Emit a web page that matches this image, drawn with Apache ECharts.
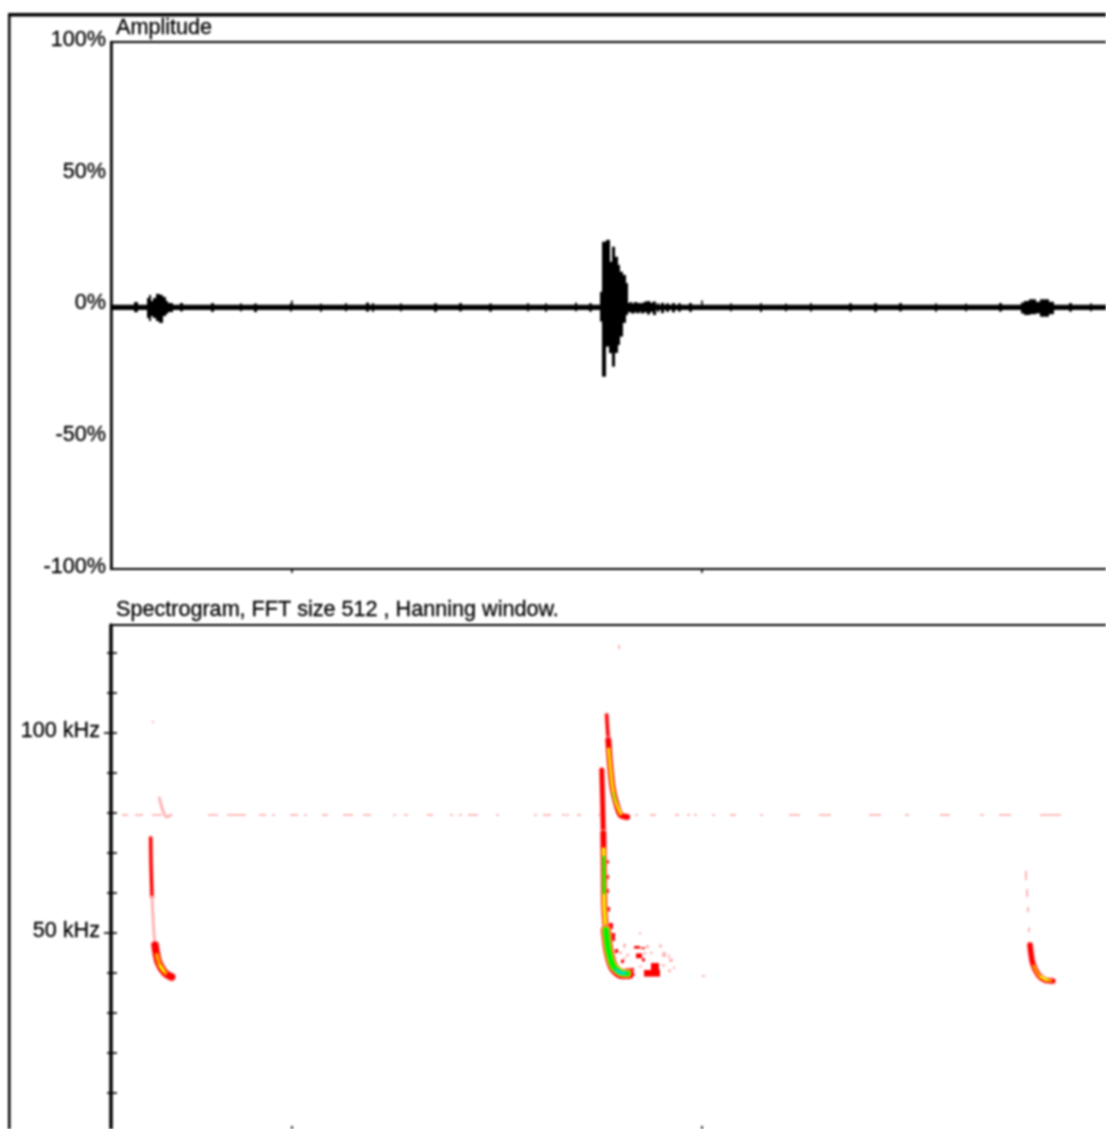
<!DOCTYPE html>
<html>
<head>
<meta charset="utf-8">
<title>Amplitude and spectrogram</title>
<script src="https://cdn.jsdelivr.net/npm/echarts@6/dist/echarts.min.js"></script>
<style>
html,body{margin:0;padding:0;background:#fff;overflow:hidden}
#chart{width:1106px;height:1129px;filter:blur(0.8px)}
</style>
</head>
<body>
<div id="chart"></div>
<script>
// --- tick values
const timeTicks = [44.15, 144.15];
const freqMajor = [50, 100];
const freqAll = [10, 20, 30, 40, 50, 60, 70, 80, 90, 100, 110, 120];
const freqMinor = [10, 20, 30, 40, 60, 70, 80, 90, 110, 120];
const titleAmplitude = 'Amplitude';
const titleSpectrogram = 'Spectrogram, FFT size 512 , Hanning window.';

// --- waveform envelope: [start ms, end ms, low %, high %]
const waveBaseline = [[0, 250, -1.7, 0.25]];
const waveBurstA = [
  [5.85, 6.35, -2.5, 1.3], [9.0, 9.5, -4.75, 2.85], [9.5, 9.75, -5.9, 4.0], [9.75, 10.25, -4.0, 1.7],
  [10.25, 11.0, -4.75, 2.85], [11.0, 11.95, -5.9, 4.4], [11.95, 12.45, -6.6, 4.0], [12.45, 13.2, -4.0, 3.2],
  [13.2, 13.9, -3.2, 1.7], [13.9, 14.9, -2.5, 0.95], [16.9, 17.2, -2.2, 0.95], [17.2, 17.5, -2.2, 0.95]
];
const waveBurstB = [
  [119.4, 119.9, -6.1, 5.2], [119.9, 120.5, -27.0, 24.2], [120.5, 120.9, -15.0, 17.3], [120.9, 121.5, -15.6, 24.9],
  [121.5, 122.3, -18.1, 16.6], [122.3, 122.9, -23.2, 22.3], [122.9, 123.5, -18.0, 18.5], [123.5, 124.1, -15.0, 15.4],
  [124.1, 124.8, -11.8, 12.8], [124.8, 125.4, -6.6, 11.6], [125.4, 125.9, -3.6, 8.5], [125.9, 126.6, -2.6, 1.0],
  [126.6, 127.0, -2.2, 1.3], [127.0, 127.6, -3.0, 0.8], [127.6, 128.2, -2.4, 1.3], [128.2, 128.8, -2.9, 1.0],
  [128.8, 129.4, -2.3, 0.7], [129.4, 129.8, -3.0, 1.0], [130.2, 130.6, -2.6, 1.5], [130.9, 131.3, -3.4, 1.7],
  [131.6, 132.0, -2.5, 1.1], [132.3, 132.7, -3.6, 1.5], [133.2, 133.6, -2.5, 0.9], [134.3, 134.7, -2.9, 1.0],
  [135.5, 135.9, -2.4, 0.8], [137.0, 137.4, -2.6, 0.9], [138.4, 138.8, -2.3, 0.8]
];
const waveBurstC = [
  [222.1, 222.9, -3.0, 1.1], [222.9, 224.1, -3.6, 1.7], [224.1, 225.4, -3.3, 2.35], [225.4, 226.6, -3.0, 1.4],
  [226.6, 228.6, -4.25, 2.35], [228.6, 229.8, -3.3, 1.4]
];
const waveSpikes = [
  [24.6, 24.9, -2.4, 0.9], [31.5, 31.8, -2.2, 0.8], [35.1, 35.4, -2.5, 0.7], [43.7, 44.0, -2.3, 0.9],
  [51.0, 51.3, -2.4, 0.7], [57.1, 57.4, -2.2, 0.9], [62.4, 62.8, -2.3, 1.1], [63.7, 64.0, -2.4, 0.9],
  [70.5, 70.8, -2.2, 0.8], [79.0, 79.3, -2.4, 0.8], [85.1, 85.4, -2.2, 0.9], [92.4, 92.7, -2.3, 0.7],
  [101.5, 101.8, -2.2, 0.9], [105.9, 106.2, -2.4, 0.8], [113.2, 113.5, -2.2, 1.0], [116.8, 117.1, -2.3, 0.8],
  [141.2, 141.5, -2.4, 0.9], [151.0, 151.3, -2.2, 0.8], [158.3, 158.6, -2.5, 0.9], [164.4, 164.7, -2.2, 0.7],
  [170.5, 170.8, -2.3, 0.9], [180.2, 180.5, -2.2, 0.8], [186.3, 186.6, -2.4, 0.8], [192.4, 192.7, -2.2, 0.9],
  [201.0, 201.3, -2.4, 0.8], [208.3, 208.6, -2.2, 0.7], [216.8, 217.1, -2.3, 0.9], [233.9, 234.2, -2.3, 0.9],
  [238.8, 239.1, -2.2, 0.8]
];

// --- spectrogram ridges: [ms, kHz]
const callAUpper = [[9.68, 73.75], [9.76, 67.5], [10.0, 59]];
const callAFade = [[10.0, 59], [10.41, 50.75], [10.73, 47]];
const callALower = [[10.73, 47], [11.54, 42.75], [13.17, 40], [14.8, 39]];
const callACore = [[11.2, 44.5], [11.9, 42], [13.3, 40]];
const callAGreen = [[12.0, 41.8], [12.8, 40.6]];
const callAHarmonic = [[11.78, 83.75], [12.76, 80.3], [13.58, 79], [14.56, 79.5]];
const callBHarmonicTop = [[120.9, 104.5], [121.1, 101], [121.3, 98.25]];
const callBHarmonic = [[121.3, 98.25], [121.7, 92.5], [122.3, 86.5], [123.2, 82.5], [124.3, 79.5], [125.9, 79]];
const callBHarmonicCore = [[121.4, 96], [121.7, 92.5], [122.3, 86.5], [123.2, 82.5], [124.3, 79.8]];
const callBHarmonicGreen = [[122.5, 85], [123.0, 83]];
const callBUpper = [[119.7, 90.75], [119.9, 83.25], [120.07, 75]];
const callBMiddle = [[120.07, 75], [120.2, 65], [120.3, 56.5], [120.7, 50.75]];
const callBMiddleCore = [[120.15, 71], [120.2, 65], [120.3, 56.5], [120.7, 50.75]];
const callBMiddleGreen = [[120.15, 69], [120.2, 65], [120.22, 60]];
const callBLower = [[120.7, 50.75], [121.3, 45.75], [122.5, 41.5], [124.5, 39.75], [126.4, 39.75]];
const callBLowerCore = [[120.7, 50.75], [121.3, 45.75], [122.5, 41.7], [124.5, 40], [125.9, 39.9]];
const callBLowerCyan = [[123.3, 40.7], [124.5, 40], [125.3, 40]];
const callCLower = [[224.15, 47], [224.8, 42.5], [226.2, 39.5], [227.8, 38.25], [229.7, 38]];
const callCCore = [[225.1, 41.8], [226.2, 39.6], [227.8, 38.4], [229.2, 38.1]];
const callCGreen = [[226.8, 39], [228.2, 38.3]];

// --- spectrogram speckle: [start ms, end ms, low kHz, high kHz]
const lineDashes = [
  [2.9, 4.1], [5.9, 7.8], [10.2, 12.4], [23.7, 25.9], [28.5, 32.7], [36.3, 37.6], [39.3, 40], [43.7, 45.4],
  [47.3, 47.8], [51.7, 52.9], [56.6, 58.8], [61.5, 63.2], [68.8, 69.3], [71.7, 72.2], [77.1, 78.5], [82.7, 83.2],
  [85.1, 85.6], [87.1, 89.3], [94.1, 94.6], [103.4, 103.9], [105.4, 107.1], [110, 110.5], [111.2, 111.7], [113.9, 114.4],
  [118.8, 119.3], [128, 128.5], [131.5, 132.7], [137.8, 138.3], [140.7, 141.2], [142.4, 142.9], [146.6, 147.3], [151, 152.2],
  [158.3, 159], [165.6, 168], [172.9, 175.4], [185.1, 187.6], [193.7, 194.4], [202.2, 204.6], [212, 212.7], [216.8, 219.3], [226.6, 231.5]
];
const pinkDashRows = lineDashes.map(d => [d[0], d[1], 79.3, 79.75]);
const pinkSpeckle = [
  [123.8, 124.0, 121, 122], [10.1, 10.3, 102.5, 103], [144.2, 144.7, 39, 39.5], [223.0, 223.25, 63.2, 65.5],
  [223.2, 223.45, 59, 61], [223.5, 223.7, 55.2, 56.5], [223.7, 224.0, 50.2, 51.4], [128.8, 129.2, 49.6, 50.2],
  [135.9, 136.3, 43.9, 44.6], [134.6, 135.1, 41.6, 42.2], [135.9, 136.4, 40.2, 40.9], [137.1, 137.5, 41, 41.6],
  [133.9, 134.3, 46.4, 47.1], [129.0, 129.5, 41.4, 41.9], [127.6, 128.0, 39.3, 39.9], [125.0, 125.4, 46.4, 47.3],
  [124.0, 124.4, 44.8, 45.4], [125.0, 125.5, 43.4, 43.9], [125.8, 126.3, 44.2, 44.8], [131.6, 132.0, 44.8, 45.3],
  [130.6, 131.0, 46.2, 47], [129.8, 130.3, 44.6, 45.2], [134.5, 135.2, 44.0, 45.2], [136.2, 137.0, 42.8, 43.6]
];
const redSpeckle = [
  [128.2, 129.4, 43.7, 44.9], [130.2, 133.9, 39.1, 40.75], [131.9, 133.5, 40.75, 42.5], [125.8, 127.4, 39.1, 41.25],
  [127.8, 128.9, 46.1, 46.75], [129.3, 130.1, 46, 46.4], [129.6, 130.1, 42.9, 43.7], [121.0, 121.3, 67.4, 68.2],
  [121.0, 121.3, 63.5, 64.5], [121.0, 121.3, 60, 61], [121.2, 121.6, 55.4, 56.5], [121.7, 122.2, 51, 52.5],
  [122.1, 122.7, 48, 50], [123.0, 123.5, 45, 46], [124.5, 125.0, 42.5, 43.3]
];

// --- series builders: data arrives from the arrays above, axes do the scaling
const rectRender = (params, api) => {
  const a = api.coord([api.value(0), api.value(3)]);
  const b = api.coord([api.value(1), api.value(2)]);
  const x = Math.floor(a[0]);
  return { type: 'rect', shape: { x, y: a[1], width: Math.max(1, Math.ceil(b[0]) - x), height: Math.max(1, b[1] - a[1]) }, style: { fill: api.visual('color') } };
};
const rects = (rows, color, panel) => ({
  type: 'custom', renderItem: rectRender, data: rows, clip: true, silent: true,
  xAxisIndex: panel === 0 ? 0 : 2, yAxisIndex: panel === 0 ? 0 : 1,
  itemStyle: { color }, encode: { x: [0, 1], y: [2, 3] }
});
const ridge = (rows, color, width) => ({
  type: 'line', data: rows, xAxisIndex: 2, yAxisIndex: 1, showSymbol: false, symbol: 'none', silent: true,
  smooth: 0.25, lineStyle: { color, width, cap: 'round', join: 'round' }
});

const RED = '#ff0000', PINK = '#ffb4b4', ORANGE = '#ff9a00', YELLOW = '#f4f000', GREEN = '#00f000', CYAN = '#00dcb0';

const chart = echarts.init(document.getElementById('chart'), null, { renderer: 'canvas', width: 1106, height: 1129 });
const axisFont = { fontFamily: '"Liberation Sans", Arial, sans-serif', fontSize: 21.6, color: '#000000', textBorderColor: '#000000', textBorderWidth: 0.3 };
chart.setOption({
  animation: false,
  backgroundColor: '#ffffff',
  title: [
    { text: titleAmplitude, left: 116, top: 17, padding: 0, textStyle: { ...axisFont, fontWeight: 'normal' } },
    { text: titleSpectrogram, left: 116, top: 599, padding: 0, textStyle: { ...axisFont, fontWeight: 'normal' } }
  ],
  graphic: [
    { type: 'rect', shape: { x: 8, y: 13, width: 1098, height: 3.5 }, style: { fill: '#000' }, silent: true },
    { type: 'rect', shape: { x: 8, y: 13, width: 2.5, height: 1116 }, style: { fill: '#000' }, silent: true }
  ],
  grid: [
    { left: 111, top: 42, width: 1025, height: 527, outerBoundsMode: 'none', show: true, backgroundColor: 'transparent', borderColor: '#000', borderWidth: 2 },
    { left: 111, top: 625, width: 1025, height: 508, outerBoundsMode: 'none', show: true, backgroundColor: 'transparent', borderColor: '#000', borderWidth: 2 }
  ],
  xAxis: [
    { gridIndex: 0, type: 'value', position: 'bottom', min: 0, max: 250, axisLabel: { show: false }, splitLine: { show: false },
      axisLine: { lineStyle: { color: '#000', width: 2 } },
      axisTick: { inside: true, length: 5, customValues: timeTicks, lineStyle: { color: '#000', width: 1.6 } } },
    { gridIndex: 0, type: 'value', position: 'bottom', min: 0, max: 250, axisLabel: { show: false }, splitLine: { show: false },
      axisLine: { show: false },
      axisTick: { inside: false, length: 4, customValues: timeTicks, lineStyle: { color: '#000', width: 1.6 } } },
    { gridIndex: 1, type: 'value', position: 'bottom', min: 0, max: 250, axisLabel: { show: false }, splitLine: { show: false },
      axisLine: { lineStyle: { color: '#000', width: 2 } },
      axisTick: { inside: true, length: 7, customValues: timeTicks, lineStyle: { color: '#000', width: 1.6 } } }
  ],
  yAxis: [
    { gridIndex: 0, type: 'value', min: -100, max: 100, interval: 50, splitLine: { show: false },
      axisLine: { lineStyle: { color: '#000', width: 2.5 } },
      axisTick: { show: false },
      axisLabel: { ...axisFont, margin: 5, verticalAlign: 'bottom', padding: [0, 0, -9, 0], formatter: '{value}%' } },
    { gridIndex: 1, type: 'value', min: 0, max: 127, splitLine: { show: false },
      axisLine: { lineStyle: { color: '#000', width: 3.5 } },
      axisTick: { length: 7, customValues: freqMajor, lineStyle: { color: '#000', width: 1.6 } },
      axisLabel: { ...axisFont, margin: 11, verticalAlign: 'bottom', padding: [0, 0, -9, 0], customValues: freqMajor, formatter: v => v + ' kHz' } },
    { gridIndex: 1, type: 'value', min: 0, max: 127, splitLine: { show: false }, position: 'left',
      axisLine: { show: false }, axisLabel: { show: false },
      axisTick: { length: 4, customValues: freqMinor, lineStyle: { color: '#000', width: 1.6 } } },
    { gridIndex: 1, type: 'value', min: 0, max: 127, splitLine: { show: false }, position: 'left',
      axisLine: { show: false }, axisLabel: { show: false },
      axisTick: { inside: true, length: 6, customValues: freqAll, lineStyle: { color: '#000', width: 1.6 } } }
  ],
  series: [
    rects(waveBaseline, '#000', 0), rects(waveSpikes, '#000', 0), rects(waveBurstA, '#000', 0),
    rects(waveBurstB, '#000', 0), rects(waveBurstC, '#000', 0),
    rects(pinkDashRows, PINK, 1), rects(pinkSpeckle, PINK, 1), rects(redSpeckle, RED, 1),
    ridge(callAHarmonic, PINK, 3),
    ridge(callAUpper, PINK, 5), ridge(callAUpper, RED, 3), ridge(callAFade, PINK, 3),
    ridge(callALower, PINK, 9), ridge(callALower, RED, 7), ridge(callACore, ORANGE, 4), ridge(callAGreen, YELLOW, 3),
    ridge(callBHarmonicTop, PINK, 5), ridge(callBHarmonicTop, RED, 3),
    ridge(callBHarmonic, PINK, 7), ridge(callBHarmonic, RED, 5.5), ridge(callBHarmonicCore, ORANGE, 3.5), ridge(callBHarmonicCore, YELLOW, 2), ridge(callBHarmonicGreen, '#a8f000', 2.5),
    ridge(callBUpper, PINK, 6), ridge(callBUpper, RED, 4.5),
    ridge(callBMiddle, PINK, 7), ridge(callBMiddle, RED, 5.5), ridge(callBMiddleCore, ORANGE, 4), ridge(callBMiddleCore, YELLOW, 3), ridge(callBMiddleGreen, GREEN, 2.5),
    ridge(callBLower, PINK, 11), ridge(callBLower, RED, 9.5), ridge(callBLowerCore, ORANGE, 8), ridge(callBLowerCore, YELLOW, 7), ridge(callBLowerCore, GREEN, 5.5), ridge(callBLowerCyan, CYAN, 4),
    ridge(callCLower, PINK, 7), ridge(callCLower, RED, 5), ridge(callCCore, ORANGE, 3), ridge(callCGreen, YELLOW, 3)
  ]
});
</script>
</body>
</html>
